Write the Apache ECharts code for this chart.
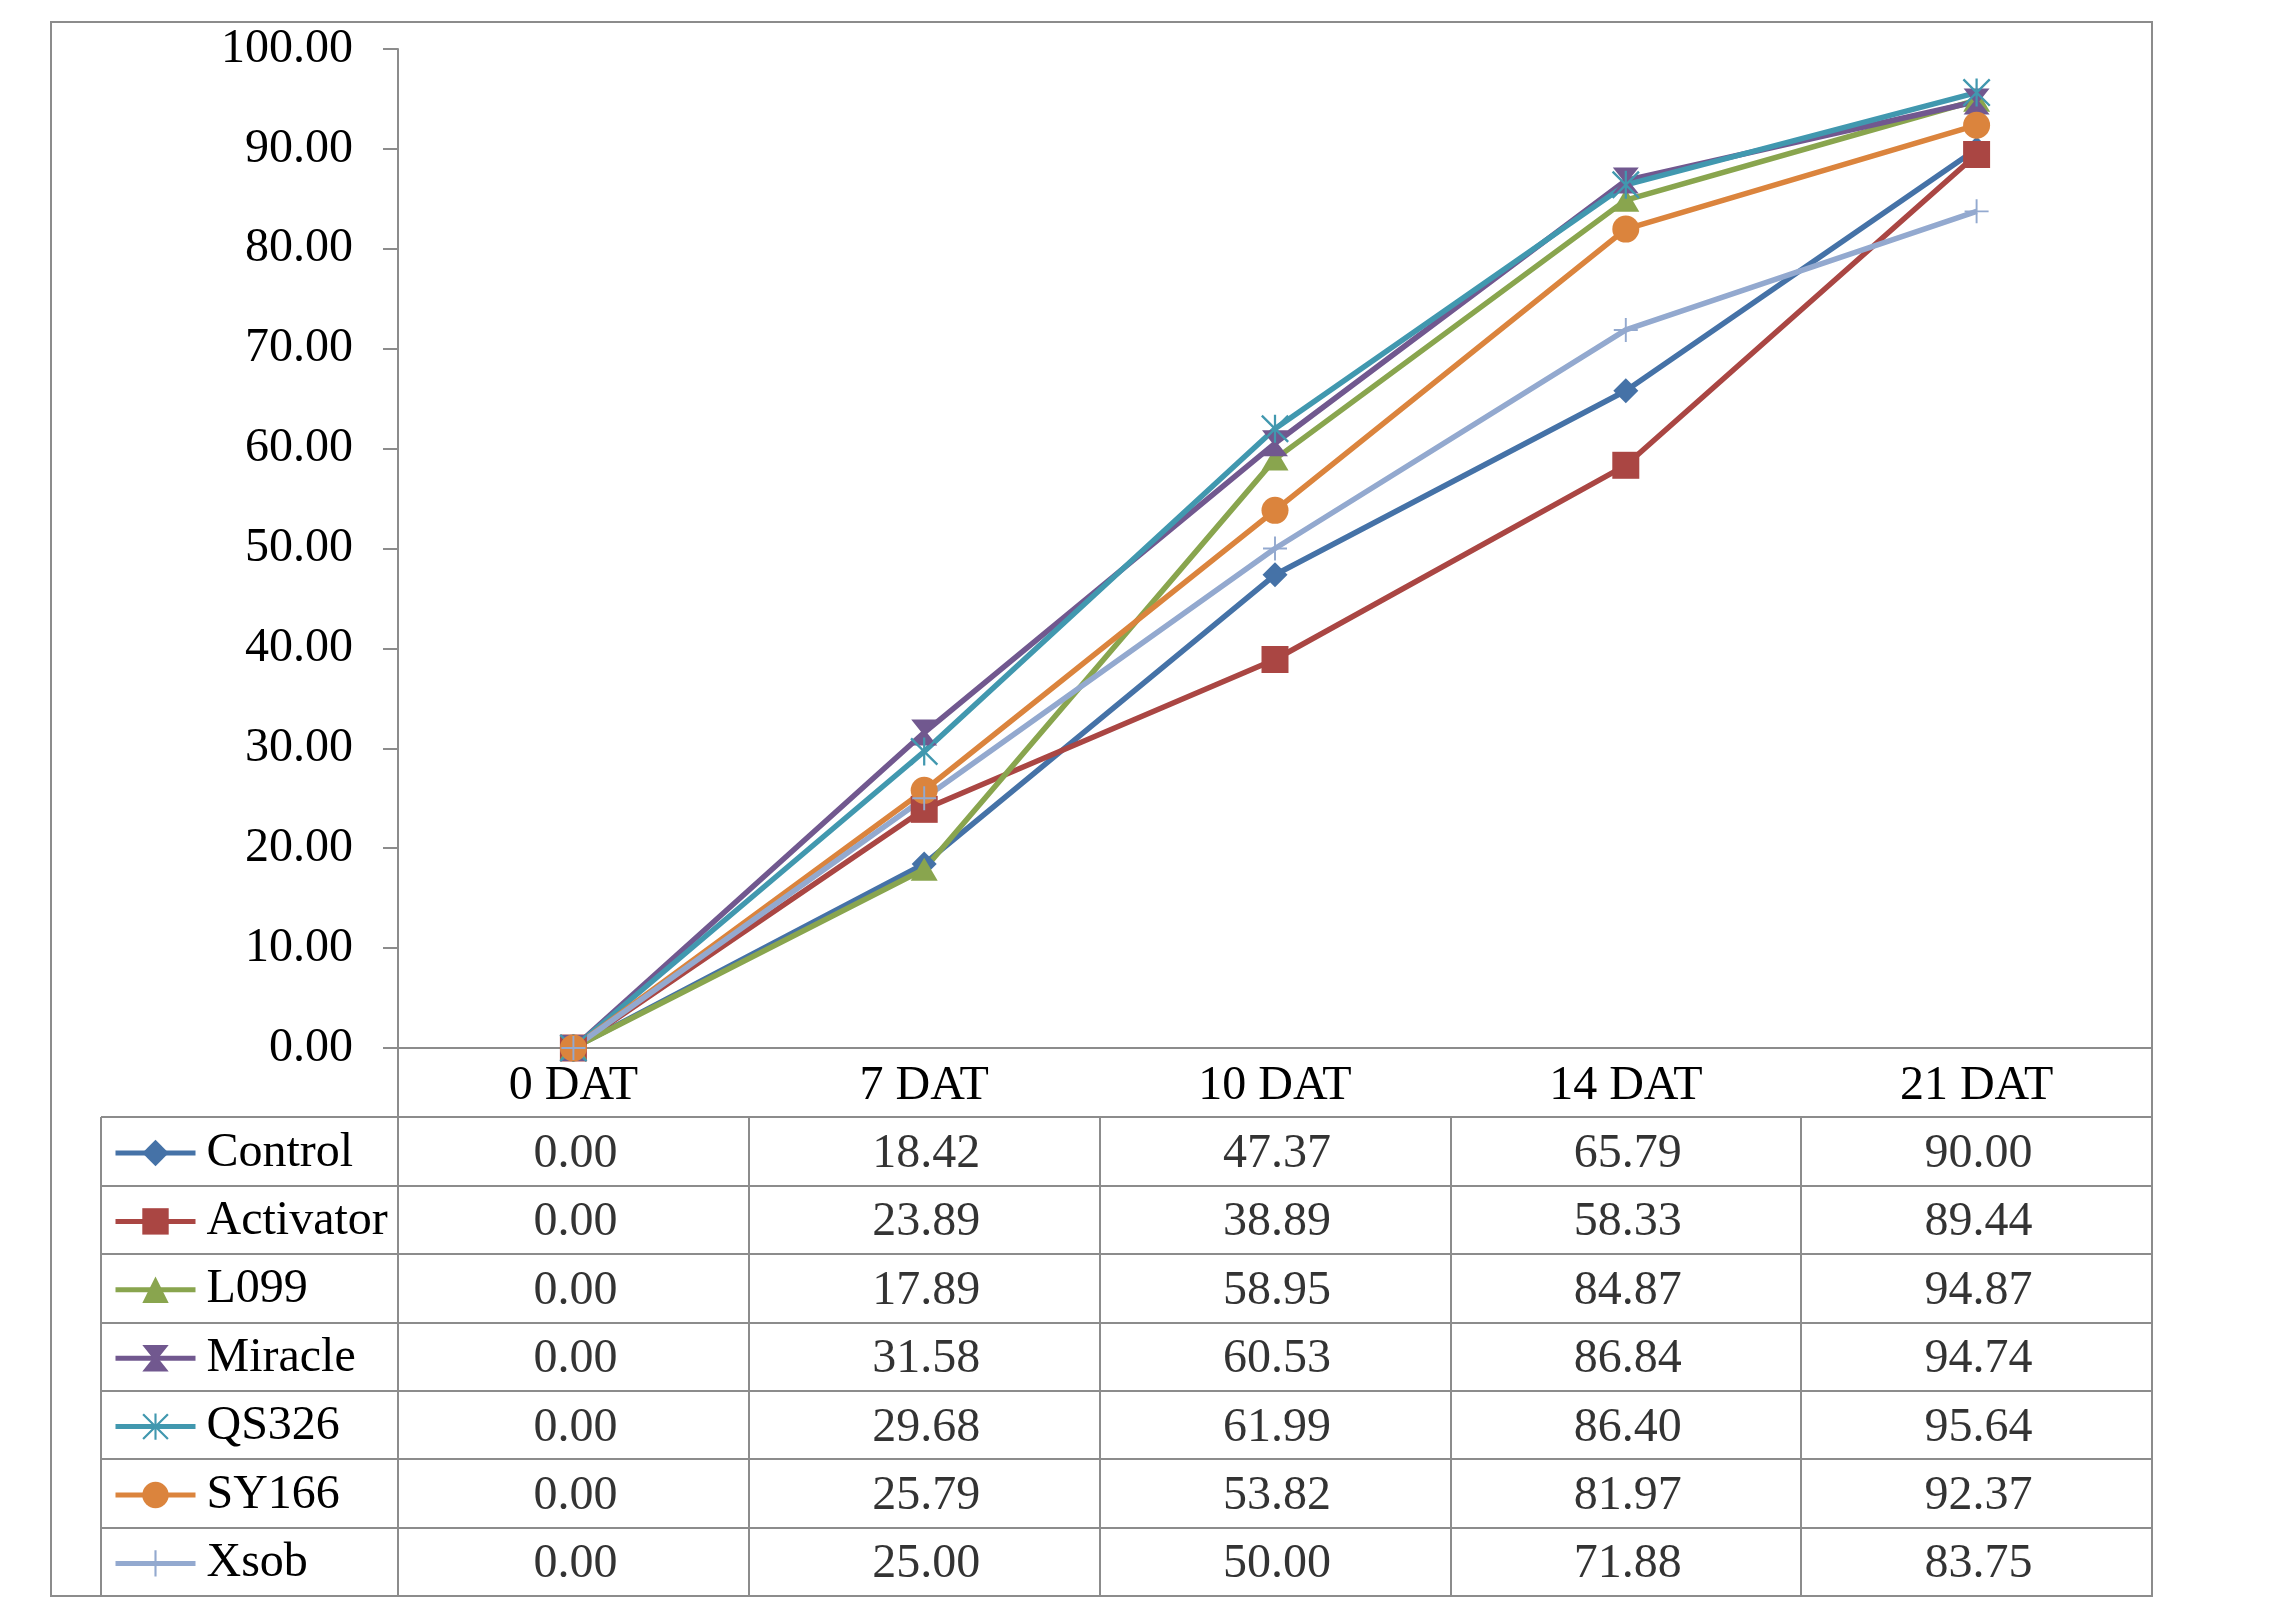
<!DOCTYPE html>
<html lang="en">
<head>
    <meta charset="UTF-8">
    <title>DAT chart with data table</title>
    <script src="https://cdn.jsdelivr.net/npm/echarts@6/dist/echarts.min.js"></script>
    <style>
        html, body { margin: 0; padding: 0; background: #fff; }
        #chart { width: 2295px; height: 1616px; }
    </style>
</head>
<body>
    <div id="chart"></div>
    <script>
        // categories
        let days = ['0 DAT', '7 DAT', '10 DAT', '14 DAT', '21 DAT'];
        // series names
        let names = ['Control', 'Activator', 'L099', 'Miracle', 'QS326', 'SY166', 'Xsob'];
        // series values
        let control   = [0.00, 18.42, 47.37, 65.79, 90.00];
        let activator = [0.00, 23.89, 38.89, 58.33, 89.44];
        let l099      = [0.00, 17.89, 58.95, 84.87, 94.87];
        let miracle   = [0.00, 31.58, 60.53, 86.84, 94.74];
        let qs326     = [0.00, 29.68, 61.99, 86.40, 95.64];
        let sy166     = [0.00, 25.79, 53.82, 81.97, 92.37];
        let xsob      = [0.00, 25.00, 50.00, 71.88, 83.75];
        let values = [control, activator, l099, miracle, qs326, sy166, xsob];

        let colors = ['#4572A7', '#AA4643', '#89A54E', '#71588F', '#4198AF', '#DB843D', '#93A9CF'];
        let font = 'Liberation Serif';
        let gridColor = '#8c8c8c';

        // marker shapes
        let hourglass = 'path://M0,0 L10,0 L6,5 L10,10 L0,10 L4,5 Z';
        let asterisk = 'path://M4.6,0 H5.4 V10 H4.6 Z M0,0.6 L0.6,0 L10,9.4 L9.4,10 Z M9.4,0 L10,0.6 L0.6,10 L0,9.4 Z';
        let plus = 'path://M4.6,0 H5.4 V4.6 H10 V5.4 H5.4 V10 H4.6 V5.4 H0 V4.6 H4.6 Z';
        let symbols = ['diamond', 'rect', 'triangle', hourglass, asterisk, 'circle', plus];
        let symbolSizes = [[25, 25], [27, 27], [27, 23], [26, 26], [28, 28], [27, 27], [24, 24]];

        let lineSeries = names.map(function (name, i) {
            return {
                name: name,
                type: 'line',
                xAxisIndex: 0,
                yAxisIndex: 0,
                data: values[i],
                symbol: symbols[i],
                symbolSize: symbolSizes[i],
                showAllSymbol: true,
                color: colors[i],
                itemStyle: { color: colors[i], borderWidth: 0 },
                lineStyle: { width: 5.5, color: colors[i] },
                animation: false
            };
        });

        // table cells
        let cells = [];
        values.forEach(function (row, r) {
            row.forEach(function (v, c) {
                cells.push([c, r, v]);
            });
        });

        let tableSeries = {
            name: 'table',
            type: 'scatter',
            xAxisIndex: 1,
            yAxisIndex: 1,
            data: cells,
            symbolSize: 1,
            itemStyle: { color: 'transparent' },
            silent: true,
            animation: false,
            label: {
                show: true,
                position: 'inside',
                offset: [2, 3],
                formatter: function (p) { return p.value[2].toFixed(2); },
                fontFamily: font,
                fontSize: 48,
                color: '#000'
            }
        };

        let chart = echarts.init(document.getElementById('chart'));
        chart.setOption({
            backgroundColor: '#fff',
            animation: false,
            textStyle: { fontFamily: font },
            grid: [
                { left: 398, width: 1754, top: 49, height: 999 },
                { left: 398, width: 1754, top: 1117, height: 479 },
                { left: 101, width: 297, top: 1117, height: 479 }
            ],
            legend: {
                data: names,
                orient: 'vertical',
                left: 113,
                top: 1129,
                padding: 0,
                itemWidth: 80,
                itemHeight: 33,
                itemGap: 20.4,
                selectedMode: false,
                lineStyle: { width: 5 },
                textStyle: {
                    fontFamily: font,
                    fontSize: 48,
                    lineHeight: 48,
                    color: '#000',
                    padding: [0, 0, 0, 6]
                }
            },
            xAxis: [
                {
                    type: 'category',
                    gridIndex: 0,
                    data: days,
                    boundaryGap: true,
                    axisLine: { lineStyle: { color: gridColor, width: 2 } },
                    axisTick: { show: false },
                    axisLabel: { fontFamily: font, fontSize: 48, color: '#000', margin: 14 }
                },
                {
                    type: 'category',
                    gridIndex: 1,
                    data: days,
                    boundaryGap: true,
                    axisLine: { show: false },
                    axisTick: { show: false },
                    axisLabel: { show: false },
                    splitLine: { show: true, interval: 0, lineStyle: { color: gridColor, width: 2 } }
                },
                {
                    type: 'value',
                    gridIndex: 2,
                    min: 0,
                    max: 1,
                    interval: 1,
                    axisLine: { show: false },
                    axisTick: { show: false },
                    axisLabel: { show: false },
                    splitLine: { show: true, lineStyle: { color: gridColor, width: 2 } }
                }
            ],
            yAxis: [
                {
                    type: 'value',
                    gridIndex: 0,
                    min: 0,
                    max: 100,
                    interval: 10,
                    axisLine: { show: true, lineStyle: { color: gridColor, width: 2 } },
                    axisTick: { show: true, length: 15, lineStyle: { color: gridColor, width: 2 } },
                    splitLine: { show: false },
                    axisLabel: {
                        fontFamily: font,
                        fontSize: 48,
                        color: '#000',
                        margin: 45,
                        formatter: function (v) { return v.toFixed(2); }
                    }
                },
                {
                    type: 'category',
                    gridIndex: 1,
                    data: names,
                    inverse: true,
                    axisLine: { show: false },
                    axisTick: { show: false },
                    axisLabel: { show: false },
                    splitLine: { show: true, interval: 0, lineStyle: { color: gridColor, width: 2 } }
                },
                {
                    type: 'category',
                    gridIndex: 2,
                    data: names,
                    inverse: true,
                    axisLine: { show: false },
                    axisTick: { show: false },
                    axisLabel: { show: false },
                    splitLine: { show: true, interval: 0, lineStyle: { color: gridColor, width: 2 } }
                }
            ],
            graphic: [
                {
                    type: 'rect',
                    shape: { x: 51, y: 22, width: 2101, height: 1574 },
                    style: { fill: 'none', stroke: gridColor, lineWidth: 2 },
                    silent: true
                },
                {
                    type: 'line',
                    shape: { x1: 398, y1: 1048, x2: 398, y2: 1117 },
                    style: { stroke: gridColor, lineWidth: 2 },
                    silent: true
                }
            ],
            series: lineSeries.concat([tableSeries])
        });
    </script>
</body>
</html>
